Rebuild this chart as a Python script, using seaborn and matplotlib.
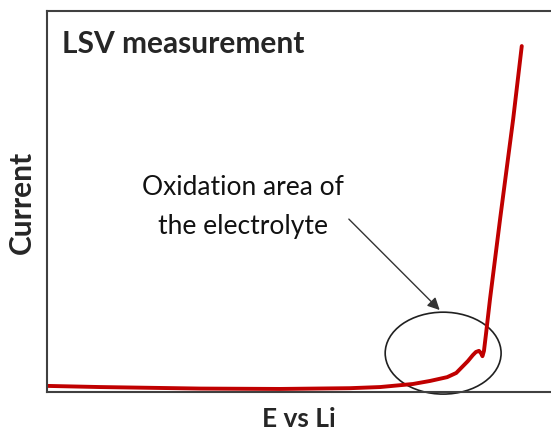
import numpy as np
import pandas as pd
import matplotlib
matplotlib.use("Agg")
import matplotlib.pyplot as plt
import seaborn as sns
from matplotlib.patches import Ellipse

# LSV curve, arbitrary units
potential = [0, 10.5, 30.4, 46.2, 60.1, 66.1, 72.6, 76.0, 79.4, 81.2,
             83.5, 84.5, 85.1, 85.7, 86.1, 86.4, 86.7, 87.1, 87.9, 89.9,
             92.5, 94.2]
current = [1.6, 1.3, 0.9, 0.8, 1.0, 1.3, 2.1, 2.9, 3.9, 5.0,
           8.1, 9.7, 10.5, 10.8, 10.2, 9.4, 10.8, 15.2, 24.4, 45.4,
           71.7, 90.8]

df = pd.DataFrame({"E": potential, "I": current})

sns.set_style("white")
plt.rcParams["font.family"] = ["Lato", "DejaVu Sans"]

fig = plt.figure(figsize=(5.51, 4.35), dpi=100)
ax = fig.add_axes([47 / 551, 42 / 435, 504 / 551, 381 / 435])

sns.lineplot(data=df, x="E", y="I", color="#C00000", lw=2.8, ax=ax)

ax.set_xlim(0, 100)
ax.set_ylim(0, 100)
ax.set_xticks([])
ax.set_yticks([])
for s in ["left", "top", "bottom"]:
    ax.spines[s].set_color("#404040")
    ax.spines[s].set_linewidth(1.5)
ax.spines["right"].set_visible(False)

ax.set_xlabel("E vs Li", fontsize=19, fontweight="bold", labelpad=10)
ax.set_ylabel("Current", fontsize=21.5, fontweight="bold", labelpad=8)

ax.text(0.03, 0.892, "LSV measurement", transform=ax.transAxes,
        fontsize=21.5, fontweight="bold", va="baseline", ha="left")

# oxidation region
ell = Ellipse((78.6, 10.2), 23.0, 21.5, fill=False, ec="#202020", lw=1.2,
              clip_on=False)
ax.add_patch(ell)
ax.annotate("", xy=(78.3, 21.0), xytext=(59.5, 45.9),
            arrowprops=dict(arrowstyle="-|>", color="#333333", lw=1,
                            mutation_scale=18))
ax.text(38.8, 41.7, "Oxidation area of\nthe electrolyte", fontsize=19,
        ha="center", va="baseline", linespacing=1.7, color="#111111")

fig.savefig("out.png", dpi=100)
